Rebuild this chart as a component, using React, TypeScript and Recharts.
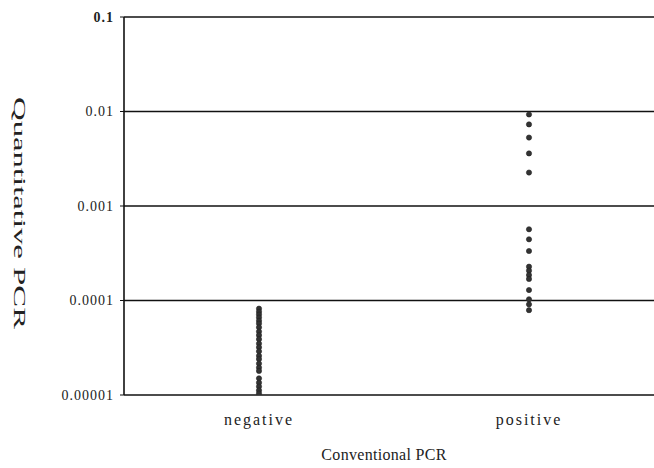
import {
  CartesianGrid,
  Label,
  Scatter,
  ScatterChart,
  XAxis,
  YAxis,
} from "recharts";

const categories = ["negative", "positive"];

const negativeValues = [
  8.2e-5, 7.6e-5, 7.1e-5, 6.6e-5, 6.1e-5, 5.7e-5, 5.2e-5, 4.7e-5, 4.3e-5,
  3.9e-5, 3.5e-5, 3.2e-5, 2.9e-5, 2.6e-5, 2.4e-5, 2.15e-5, 1.95e-5, 1.8e-5,
  1.5e-5, 1.35e-5, 1.23e-5, 1.12e-5, 1.04e-5,
];

const positiveValues = [
  9.3e-3, 7.3e-3, 5.3e-3, 3.6e-3, 2.26e-3, 5.67e-4, 4.44e-4, 3.34e-4, 2.28e-4,
  2.07e-4, 1.86e-4, 1.69e-4, 1.29e-4, 1.03e-4, 9.1e-5, 7.9e-5,
];

const yTicks = [0.00001, 0.0001, 0.001, 0.01, 0.1];
const yTickLabels = ["0.00001", "0.0001", "0.001", "0.01", "0.1"];

const serif = "'Liberation Serif', 'Times New Roman', serif";

const points = [
  ...negativeValues.map((v) => ({ x: 0.5, y: v })),
  ...positiveValues.map((v) => ({ x: 1.5, y: v })),
];

function YTick(props: any) {
  const { x, y, payload } = props;
  const i = yTicks.indexOf(payload.value);
  return (
    <text
      x={x}
      y={y}
      dy="0.35em"
      textAnchor="end"
      fontFamily={serif}
      fontSize={14}
      letterSpacing={1}
      fontWeight={payload.value === 0.1 ? "bold" : "normal"}
      fill="#222"
    >
      {yTickLabels[i]}
    </text>
  );
}

function Dot(props: any) {
  const { cx, cy } = props;
  return <circle cx={cx} cy={cy} r={2.6} fill="#333" stroke="#222" strokeWidth={0.6} />;
}

export default function App() {
  return (
    <div
      style={{
        position: "absolute",
        left: 0,
        top: 0,
        width: 654,
        height: 468,
        overflow: "hidden",
        background: "#fff",
      }}
    >
      <ScatterChart
        width={664}
        height={468}
        margin={{ top: 17, right: 0, bottom: 0, left: 0 }}
      >
        <CartesianGrid
          horizontal
          vertical={false}
          stroke="#111"
          strokeWidth={1.6}
        />
        <XAxis
          type="number"
          dataKey="x"
          domain={[0, 2]}
          ticks={[0.5, 1.5]}
          tickFormatter={(v: number) => categories[Math.floor(v)]}
          height={73}
          axisLine={false}
          tickLine={false}
          tickSize={6}
          tickMargin={13}
          tick={{ fontFamily: serif, fontSize: 16, fill: "#222", letterSpacing: 2 }}
        >
          <Label
            value="Conventional PCR"
            position="insideBottom"
            offset={8}
            dx={-10}
            style={{ fontFamily: serif, fontSize: 16, fill: "#222", letterSpacing: 0.3 }}
          />
        </XAxis>
        <YAxis
          type="number"
          dataKey="y"
          scale="log"
          domain={[0.00001, 0.1]}
          ticks={yTicks}
          allowDataOverflow
          width={124}
          axisLine={{ stroke: "#111", strokeWidth: 1.6 }}
          tickLine={{ stroke: "#111" }}
          tickSize={4}
          tickMargin={6}
          tick={<YTick />}
        >
          <Label
            content={(p: any) => {
              const vb = p.viewBox;
              const cx = vb.x + 19;
              const cy = vb.y + vb.height / 2 + 7;
              return (
                <text
                  x={cx}
                  y={cy}
                  textAnchor="middle"
                  dominantBaseline="central"
                  transform={`rotate(90 ${cx} ${cy})`}
                  fontFamily={serif}
                  fontSize={16}
                  textLength={232}
                  lengthAdjust="spacingAndGlyphs"
                  fill="#222"
                >
                  Quantitative PCR
                </text>
              );
            }}
          />
        </YAxis>
        <Scatter
          data={points}
          shape={<Dot />}
          fill="#333"
          isAnimationActive={false}
        />
      </ScatterChart>
    </div>
  );
}
